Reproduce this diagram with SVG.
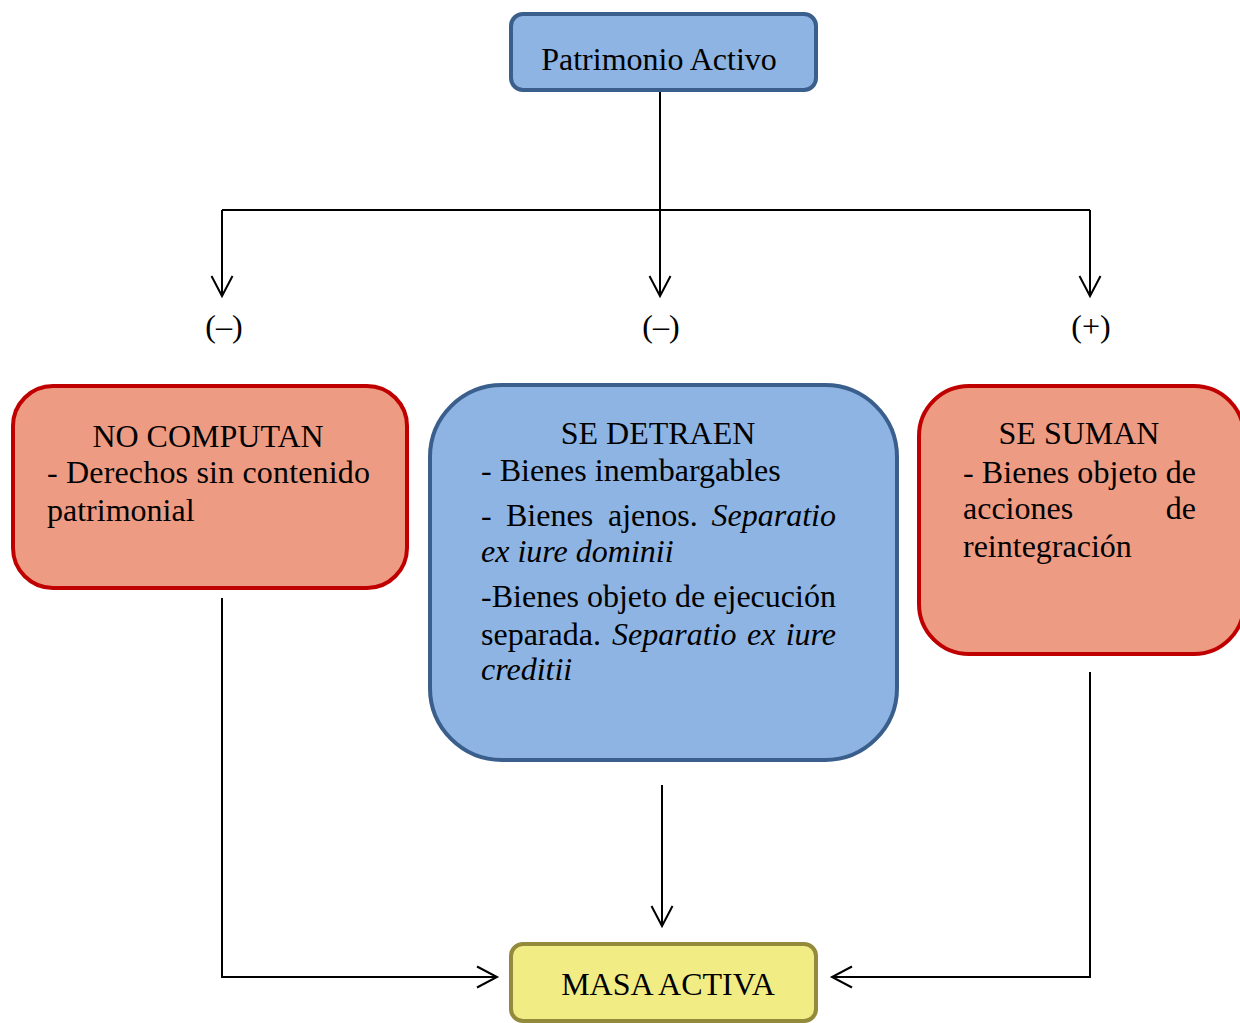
<svg xmlns="http://www.w3.org/2000/svg" width="1240" height="1023" viewBox="0 0 1240 1023">
<defs>
<marker id="arr" markerUnits="userSpaceOnUse" viewBox="0 0 24 24" markerWidth="24" markerHeight="24" refX="21" refY="12" orient="auto">
<path d="M1,1.5 L21,12 L1,22.5" fill="none" stroke="#000" stroke-width="2"/>
</marker>
</defs>
<style>
text{font-family:"Liberation Serif","Times New Roman",serif;font-size:32px;fill:#000}
.it{font-style:italic}
.blue{fill:#8EB4E3;stroke:#3B5F8C;stroke-width:4}
.red{fill:#EE9B83;stroke:#C00000;stroke-width:4}
.yel{fill:#F1EC84;stroke:#948A3B;stroke-width:4}
.ln{fill:none;stroke:#000;stroke-width:2}
</style>
<rect width="1240" height="1023" fill="#fff"/>
<g id="connectors">
<path class="ln" d="M660,90 V210"/>
<path class="ln" d="M222,210 H1090"/>
<path class="ln" d="M222,210 V296" marker-end="url(#arr)"/>
<path class="ln" d="M660,210 V296" marker-end="url(#arr)"/>
<path class="ln" d="M1090,210 V296" marker-end="url(#arr)"/>
<path class="ln" d="M222,598 V977 H497" marker-end="url(#arr)"/>
<path class="ln" d="M662,785 V926" marker-end="url(#arr)"/>
<path class="ln" d="M1090,672 V977 H832" marker-end="url(#arr)"/>
</g>
<g id="labels">
<text x="224" y="337" text-anchor="middle" font-size="28">(–)</text>
<text x="661" y="337" text-anchor="middle" font-size="28">(–)</text>
<text x="1091" y="337" text-anchor="middle" font-size="28">(+)</text>
</g>
<g id="patrimonio">
<rect class="blue" x="511" y="14" width="305" height="76" rx="12"/>
<text x="659" y="70" text-anchor="middle">Patrimonio Activo</text>
</g>
<g id="no-computan">
<rect class="red" x="13" y="386" width="394" height="202" rx="40"/>
<text x="208" y="447" text-anchor="middle">NO COMPUTAN</text>
<text x="47" y="483" textLength="323" lengthAdjust="spacing">- Derechos sin contenido</text>
<text x="47" y="521">patrimonial</text>
</g>
<g id="se-detraen">
<rect class="blue" x="430" y="385" width="467" height="375" rx="72"/>
<text x="658" y="444" text-anchor="middle">SE DETRAEN</text>
<text x="481" y="481">- Bienes inembargables</text>
<text x="481" y="526">-</text>
<text x="506" y="526">Bienes</text>
<text x="608" y="526">ajenos.</text>
<text x="836" y="526" text-anchor="end" class="it">Separatio</text>
<text x="481" y="562" class="it">ex iure dominii</text>
<text x="481" y="607" textLength="355" lengthAdjust="spacing">-Bienes objeto de ejecución</text>
<text x="481" y="645">separada.</text>
<text x="612" y="645" class="it">Separatio</text>
<text x="747" y="645" class="it">ex</text>
<text x="836" y="645" text-anchor="end" class="it">iure</text>
<text x="481" y="680" class="it">creditii</text>
</g>
<g id="se-suman">
<rect class="red" x="919" y="386" width="325" height="268" rx="50"/>
<text x="1079" y="444" text-anchor="middle">SE SUMAN</text>
<text x="963" y="483" textLength="233" lengthAdjust="spacing">- Bienes objeto de</text>
<text x="963" y="519">acciones</text>
<text x="1196" y="519" text-anchor="end">de</text>
<text x="963" y="557">reintegración</text>
</g>
<g id="masa-activa">
<rect class="yel" x="511" y="944" width="305" height="77" rx="12"/>
<text x="668" y="995" text-anchor="middle">MASA ACTIVA</text>
</g>
</svg>
